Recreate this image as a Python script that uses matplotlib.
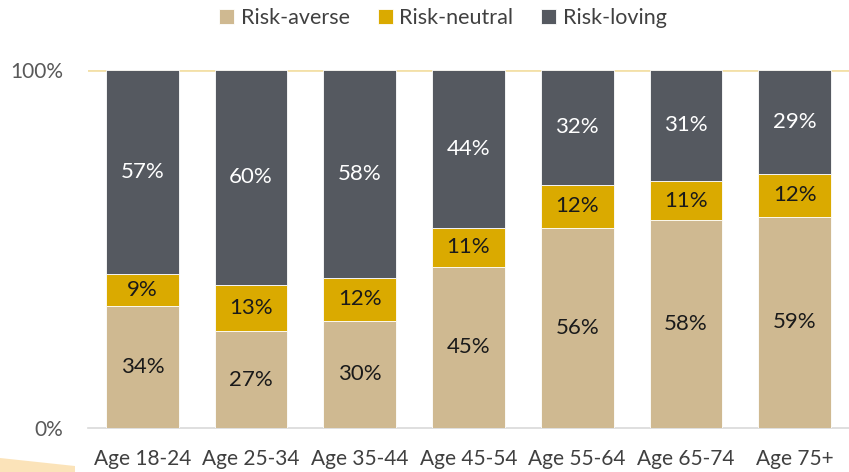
import matplotlib
matplotlib.use("Agg")
import matplotlib.pyplot as plt
from matplotlib.patches import Polygon
import numpy as np

categories = ["Age 18-24", "Age 25-34", "Age 35-44", "Age 45-54", "Age 55-64", "Age 65-74", "Age 75+"]
risk_averse = [34, 27, 30, 45, 56, 58, 59]
risk_neutral = [9, 13, 12, 11, 12, 11, 12]
risk_loving = [57, 60, 58, 44, 32, 31, 29]
series_names = ["Risk-averse", "Risk-neutral", "Risk-loving"]
colors = ["#CFB991", "#DAAA00", "#555960"]
label_colors = ["#1a1a1a", "#1a1a1a", "#ffffff"]

plt.rcParams["font.family"] = ["Lato", "DejaVu Sans"]

fig = plt.figure(figsize=(8.49, 4.72), dpi=100)
ax = fig.add_axes([88 / 849, 1 - 428 / 472, (849 - 88) / 849, (428 - 70) / 472])

x = np.arange(len(categories))
bottom = np.zeros(len(categories))
handles = []
for name, vals, col, lc in zip(series_names, [risk_averse, risk_neutral, risk_loving], colors, label_colors):
    vals = np.array(vals, dtype=float)
    bars = ax.bar(x, vals, 0.67, bottom=bottom, color=col, edgecolor="white", linewidth=0.6, label=name, zorder=3)
    handles.append(bars)
    for xi, b, v in zip(x, bottom, vals):
        ax.text(xi, b + v / 2, f"{int(v)}%", ha="center", va="center", fontsize=16, color=lc, zorder=4)
    bottom += vals

ax.set_xlim(-0.5, len(categories) - 0.5)
ax.set_ylim(0, 100)
ax.set_yticks([0, 100])
ax.set_yticklabels(["0%", "100%"], fontsize=15, color="#595959")
ax.set_xticks(x)
ax.set_xticklabels(categories, fontsize=15, color="#404040")
ax.tick_params(axis="both", length=0)
ax.tick_params(axis="y", pad=18)
ax.tick_params(axis="x", pad=15)
for s in ["top", "right", "left"]:
    ax.spines[s].set_visible(False)
ax.spines["bottom"].set_color("#D9D9D9")
ax.spines["bottom"].set_linewidth(1.2)
ax.axhline(100, color="#F3E0A8", linewidth=2, zorder=1)

fig.legend(handles=handles, labels=series_names, loc="center", bbox_to_anchor=(443 / 849, 1 - 18 / 472),
           ncol=3, frameon=False, fontsize=15.5, handlelength=0.7, handleheight=0.7,
           handletextpad=0.3, columnspacing=1.3, labelcolor="#404040")

# decorative swoosh in the lower-left corner
swoosh = Polygon([[0, 0], [0, 14 / 472], [75 / 849, 6 / 472], [75 / 849, 0]], closed=True,
                 transform=fig.transFigure, facecolor="#FBDDA8", edgecolor="none", alpha=0.8, zorder=0)
fig.patches.append(swoosh)

fig.savefig("out.png", dpi=100)
